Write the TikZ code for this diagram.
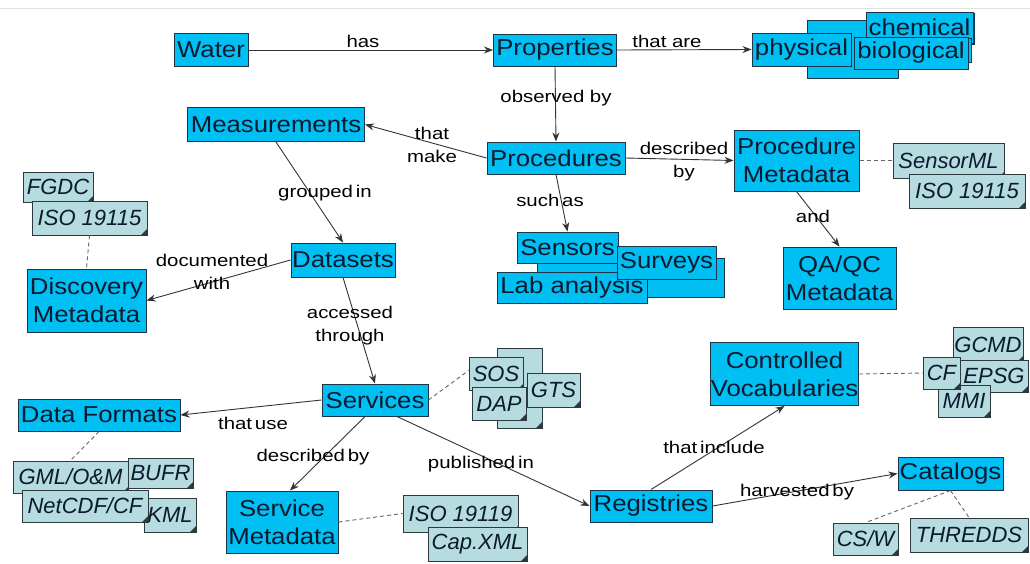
\documentclass[tikz,border=0pt]{standalone}
\usepackage{fontspec}
\setmainfont{Liberation Sans}
\newfontfamily\mainf{Liberation Sans}[FakeStretch=1.12]
\newfontfamily\labf{Liberation Sans}[FakeStretch=1.2]
\usetikzlibrary{arrows.meta}
\definecolor{cy}{HTML}{00BFF3}
\definecolor{bd}{HTML}{1E3447}
\definecolor{txt}{HTML}{0B1A2E}
\definecolor{pale}{HTML}{B6DCDF}
\definecolor{nbd}{HTML}{2C3A40}
\definecolor{ln}{HTML}{333333}
\definecolor{dl}{HTML}{666666}
\tikzset{
 sz/.style 2 args={minimum width=#1pt, minimum height=#2pt},
 box/.style={draw=bd, fill=cy, line width=1pt, inner sep=0pt, text=txt, align=center, font=\mainf\fontsize{23}{28}\selectfont},
 note/.style={draw=nbd, fill=pale, line width=0.8pt, inner sep=0pt, text=txt, font=\itshape\fontsize{22}{26}\selectfont,
   path picture={\fill[nbd] ([xshift=-6pt]path picture bounding box.south east) -- ([yshift=6pt]path picture bounding box.south east) -- (path picture bounding box.south east) -- cycle;}},
 arr/.style={draw=ln, line width=0.9pt, -{Stealth[length=9pt,width=7pt]}},
 dsh/.style={draw=dl, line width=0.9pt, dash pattern=on 4pt off 3pt},
 lab/.style={font=\labf\fontsize{17}{23}\selectfont, text=black, align=center, inner sep=0pt}
}
\begin{document}
\begin{tikzpicture}[x=1pt,y=-1pt]
\useasboundingbox (0,0) rectangle (1030,563);
\fill[white] (0,0) rectangle (1030,563);
\draw[black!12, line width=0.8pt] (0,8) -- (1030,8);

% main boxes
\node[box, sz={74}{33}] (water) at (211,50) {Water};
\node[box, sz={123}{32}] (props) at (555,50) {Properties};
\node[box, sz={91}{58}] (blankp) at (852.5,49) {};
\node[box, sz={107}{31}] (chembg) at (921,29) {};
\node[box, sz={107}{31}] (chem) at (919.5,27.5) {chemical};
\node[box, sz={111}{24}] (bgbio) at (915.5,50) {};
\node[box, sz={114}{32}] (bio) at (911,53) {biological};
\node[box, sz={99}{33}] (phys) at (801.5,49.5) {physical};

\node[box, sz={177}{34}] (meas) at (276,124.5) {Measurements};
\node[box, sz={138}{32}] (proc) at (556,158) {Procedures};
\node[box, sz={125}{61}] (procmeta) at (796.5,160.5) {Procedure\\Metadata};
\node[box, sz={113}{62}] (qaqc) at (839.5,278) {QA/QC\\Metadata};

\node[box, sz={187}{39}] (blanks) at (630.5,277.5) {};
\node[box, sz={150}{31}] (lab) at (572,287.5) {Lab analysis};
\node[box, sz={101}{31}] (sensors) at (567.5,247.5) {Sensors};
\node[box, sz={99}{33}] (surveys) at (666.5,262.5) {Surveys};

\node[box, sz={104}{34}] (datasets) at (343,260) {Datasets};
\node[box, sz={119}{63}] (discovery) at (86.5,300.5) {Discovery\\Metadata};
\node[box, sz={106}{32}] (services) at (375,400) {Services};
\node[box, sz={162}{32}] (formats) at (99,415) {Data Formats};
\node[box, sz={112}{62}] (servmeta) at (282,522) {Service\\Metadata};
\node[box, sz={122}{32}] (registries) at (651,506) {Registries};
\node[box, sz={145}{63}] (contvoc) at (784.5,374) {Controlled\\Vocabularies};
\node[box, sz={105}{33}] (catalogs) at (950.5,473.5) {Catalogs};

% notes
\node[note, sz={70}{30}] (fgdc) at (58,187) {FGDC};
\node[note, sz={115}{34}] (iso1) at (89.5,218) {ISO 19115};
\node[note, sz={111}{35}] (sensorml) at (948.5,160.5) {SensorML};
\node[note, sz={116}{34}] (iso2) at (967,191) {ISO 19115};
\node[note, sz={45}{80}] (blanko) at (519.5,388) {};
\node[note, sz={54}{33}] (sos) at (496,373.5) {SOS};
\node[note, sz={54}{33}] (dap) at (499,403.5) {DAP};
\node[note, sz={53}{34}] (gts) at (553.5,390) {GTS};
\node[note, sz={115}{32}] (gml) at (70.5,477) {GML/O\&M};
\node[note, sz={65}{30}] (bufr) at (160.5,473) {BUFR};
\node[note, sz={52}{34}] (kml) at (170,515) {KML};
\node[note, sz={126}{32}] (netcdf) at (85,506) {NetCDF/CF};
\node[note, sz={115}{37}] (iso3) at (460.5,513.5) {ISO 19119};
\node[note, sz={99}{34}] (capxml) at (477.5,544) {Cap.XML};
\node[note, sz={70}{35}] (gcmd) at (988,344.5) {GCMD};
\node[note, sz={68}{32}] (epsg) at (994,376) {EPSG};
\node[note, sz={52}{32}] (mmi) at (964,401) {MMI};
\node[note, sz={37}{32}] (cf) at (941.5,373) {CF};
\node[note, sz={65}{32}] (csw) at (865.5,539) {CS/W};
\node[note, sz={118}{34}] (thredds) at (969,535) {THREDDS};

% dashed links
\draw[dsh] (iso1.south) -- (discovery.north);
\draw[dsh] (procmeta.east) -- (sensorml.west);
\draw[dsh] (services.east) -- ([yshift=3pt]sos.west);
\draw[dsh] (formats.south) -- (gml.north);
\draw[dsh] (servmeta.east) -- (iso3.west);
\draw[dsh] (contvoc.east) -- (cf.west);
\draw[dsh] (catalogs.south) -- (csw.north);
\draw[dsh] (catalogs.south) -- (thredds.north);

% arrows
\draw[arr] (water.east) -- (props.west);
\draw[arr] (props.east) -- (phys.west);
\draw[arr] (props.south) -- (proc.north);
\draw[arr] (proc.west) -- (meas.east);
\draw[arr] (proc.east) -- (procmeta.west);
\draw[arr] (proc.south) -- (sensors.north);
\draw[arr] (procmeta.south) -- (qaqc.north);
\draw[arr] (meas.south) -- (datasets.north);
\draw[arr] (datasets.west) -- (discovery.east);
\draw[arr] (datasets.south) -- (services.north);
\draw[arr] (services.west) -- (formats.east);
\draw[arr] ([xshift=-10pt]services.south) -- ([xshift=8pt]servmeta.north);
\draw[arr] ([xshift=22pt]services.south) -- (registries.west);
\draw[arr] (registries.north) -- (contvoc.south);
\draw[arr] (registries.east) -- (catalogs.west);

% labels
\node[lab] (l1) at (363,41) {has};
\node[lab] (l2) at (667,41) {that are};
\node[lab] (l3) at (556,98) {observed by};
\node[lab] (l4) at (432,145) {that\\make};
\node[lab] (l5) at (684,162) {described\\by};
\node[lab] (l6) at (550,200) {such\,as};
\node[lab] (l7) at (813,216) {and};
\node[lab] (l8) at (325,193) {grouped\,in};
\node[lab] (l9) at (212,272) {documented\\with};
\node[lab] (l10) at (350,326) {accessed\\through};
\node[lab] (l11) at (253,423) {that\,use};
\node[lab] (l12) at (313,457) {described\,by};
\node[lab] (l13) at (481,464) {published\,in};
\node[lab] (l14) at (714,447) {that\,include};
\node[lab] (l15) at (797,492) {harvested\,by};
\end{tikzpicture}
\end{document}
